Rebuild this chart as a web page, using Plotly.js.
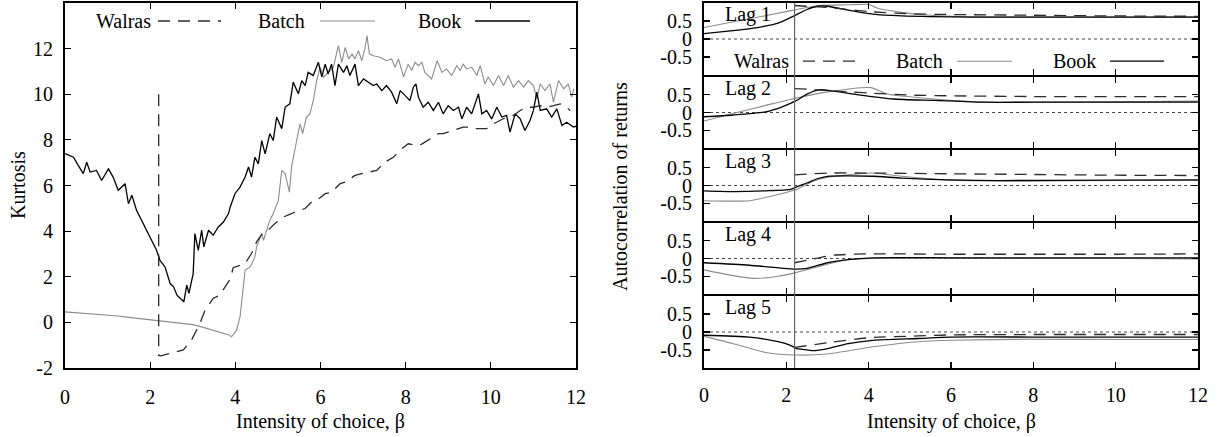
<!DOCTYPE html>
<html>
<head>
<meta charset="utf-8">
<script src="https://cdn.plot.ly/plotly-3.0.1.min.js"></script>
<style>html,body{margin:0;padding:0;background:#fff;}#chart{width:1228px;height:437px;}</style>
</head>
<body>
<div id="chart"></div>
<script>
// ---------- Left panel: Kurtosis ----------
const bookX = [0.0,0.2,0.31,0.43,0.51,0.59,0.74,0.86,1.02,1.13,1.25,1.41,1.49,1.57,1.68,1.80,1.92,2.04,2.15,2.23,2.35,2.47,2.55,2.63,2.79,2.86,2.91,3.01,3.05,3.13,3.21,3.26,3.37,3.48,3.60,3.72,3.84,3.88,3.99,4.11,4.23,4.31,4.38,4.46,4.54,4.62,4.70,4.81,4.89,4.97,5.09,5.17,5.28,5.36,5.48,5.56,5.64,5.71,5.83,5.95,6.03,6.11,6.18,6.26,6.34,6.42,6.54,6.62,6.69,6.81,6.89,7.01,7.12,7.24,7.32,7.44,7.55,7.67,7.79,7.87,7.99,8.10,8.18,8.24,8.30,8.41,8.53,8.65,8.77,8.88,9.0,9.12,9.24,9.32,9.43,9.55,9.71,9.79,9.90,10.02,10.14,10.26,10.37,10.45,10.57,10.69,10.80,10.92,11.0,11.08,11.16,11.31,11.43,11.55,11.67,11.78,11.94,12.0];
const bookY = [7.40,7.24,6.88,6.52,7.02,6.59,6.66,6.22,6.73,6.37,5.79,6.08,5.20,5.57,4.91,4.47,4.04,3.60,3.16,2.72,2.43,1.70,1.56,1.19,0.90,1.63,1.27,2.14,3.89,3.16,4.04,3.31,4.04,3.82,4.18,4.40,4.77,5.06,5.64,5.93,6.37,6.81,6.37,7.24,6.95,7.97,7.39,8.27,7.97,9.0,8.49,9.44,9.58,10.53,10.02,10.6,10.38,10.96,10.82,11.40,10.76,11.32,10.89,11.32,10.38,11.32,10.96,11.25,10.82,11.32,10.38,10.67,10.53,10.38,10.45,10.16,10.38,10.09,9.58,10.16,9.94,9.72,10.31,10.45,9.87,9.43,9.65,9.29,9.65,9.14,9.50,9.29,9.43,8.92,9.43,9.14,10.02,9.14,9.29,8.92,9.43,9.0,9.07,8.34,9.14,8.92,8.41,8.85,9.29,10.09,9.29,9.36,9.0,9.36,8.63,8.77,8.56,8.6];

const batchX = [0,0.25,0.5,0.75,1.0,1.25,1.5,1.75,2.0,2.25,2.5,2.75,3.0,3.25,3.5,3.75,3.85,3.91,4.03,4.11,4.17,4.23,4.35,4.46,4.50,4.62,4.66,4.74,4.81,4.89,5.01,5.09,5.17,5.27,5.32,5.44,5.52,5.58,5.67,5.75,5.83,5.91,5.99,6.07,6.18,6.30,6.42,6.50,6.58,6.66,6.74,6.81,6.89,6.97,7.05,7.09,7.15,7.24,7.40,7.55,7.67,7.75,7.83,7.95,8.06,8.14,8.22,8.30,8.38,8.45,8.61,8.74,8.85,8.96,9.08,9.20,9.28,9.35,9.43,9.55,9.67,9.75,9.86,9.94,10.06,10.18,10.30,10.41,10.53,10.65,10.77,10.88,11.0,11.08,11.16,11.27,11.39,11.47,11.59,11.71,11.82,11.90,11.95];
const batchY = [0.46,0.43,0.40,0.37,0.33,0.28,0.22,0.17,0.12,0.07,0.02,-0.04,-0.10,-0.22,-0.35,-0.48,-0.55,-0.63,-0.34,0.24,1.41,2.29,2.43,2.87,3.31,3.89,3.60,4.04,4.47,4.77,5.35,6.66,6.52,5.71,6.81,7.97,8.70,8.27,9.0,9.14,9.72,10.60,11.18,10.76,10.96,11.18,12.13,11.40,12.05,11.55,11.76,11.55,11.91,11.47,12.05,12.57,11.76,11.69,11.62,11.47,11.55,11.18,11.55,10.76,11.32,11.04,11.40,11.25,11.40,10.96,10.67,11.47,10.96,11.11,10.82,11.25,11.04,11.32,11.11,11.18,10.82,11.25,10.45,10.76,10.38,10.82,10.38,10.82,10.31,10.60,10.31,10.60,10.38,9.80,10.45,10.16,10.45,9.65,10.60,10.24,10.45,9.87,10.24];

const walrasX = [2.2,2.2,2.25,2.78,2.97,3.17,3.29,3.48,3.63,3.80,3.88,3.95,4.11,4.23,4.38,4.50,4.66,4.77,4.93,5.13,5.32,5.48,5.64,5.79,5.91,6.11,6.26,6.46,6.58,6.81,6.97,7.16,7.32,7.51,7.71,7.91,8.06,8.14,8.33,8.45,8.65,8.77,8.88,9.0,9.12,9.24,9.35,9.47,9.59,9.75,9.90,10.06,10.22,10.37,10.53,10.69,10.84,11.0,11.16,11.31,11.47,11.63,11.78,11.86];
const walrasY = [10.0,-1.45,-1.47,-1.21,-0.78,-0.04,0.54,1.05,1.19,1.70,1.90,2.40,2.51,2.58,3.02,3.53,3.96,4.04,4.33,4.62,4.77,4.91,4.99,5.28,5.35,5.64,5.71,6.08,6.15,6.44,6.52,6.59,6.66,7.02,7.24,7.61,7.83,7.80,7.76,7.90,8.12,8.27,8.27,8.34,8.41,8.49,8.56,8.56,8.49,8.49,8.49,8.70,8.85,9.0,9.07,9.29,9.43,9.43,9.50,9.43,9.50,9.58,9.43,9.29];

// ---------- Right panels: autocorrelation by lag ----------
const lagNames = ["Lag 1","Lag 2","Lag 3","Lag 4","Lag 5"];

const lag1BookX = [0,0.7,1.2,1.8,2.2,2.5,2.75,3.0,3.5,4.1,4.8,5.5,6.5,8,10,12];
const lag1BookY = [0.15,0.23,0.30,0.44,0.65,0.82,0.91,0.91,0.80,0.69,0.64,0.62,0.61,0.61,0.61,0.61];
const lag1BatchX = [0,1.0,2.0,2.25,2.8,3.5,4.0,4.2,4.8,5.5,6.5,8,10,12];
const lag1BatchY = [0.32,0.54,0.76,0.82,0.93,0.95,0.96,0.86,0.74,0.66,0.62,0.61,0.61,0.61];
const lag1WalrasX = [2.2,2.5,3.0,3.5,4.0,5.0,6.0,8.0,10.0,12.0];
const lag1WalrasY = [0.93,0.91,0.88,0.82,0.76,0.70,0.68,0.66,0.64,0.63];

const lag2BookX = [0,0.7,1.5,1.9,2.25,2.5,2.8,3.1,3.8,4.6,5.6,6.8,8,10,12];
const lag2BookY = [-0.12,-0.07,0.02,0.16,0.34,0.52,0.64,0.61,0.49,0.38,0.34,0.29,0.29,0.29,0.29];
const lag2BatchX = [0,0.7,1.5,2.25,3.0,4.05,4.45,5.6,6.8,8,10,12];
const lag2BatchY = [-0.24,-0.03,0.20,0.41,0.58,0.70,0.52,0.38,0.29,0.29,0.30,0.32];
const lag2WalrasX = [2.2,2.8,3.5,4.0,5.0,6.0,8.0,10.0,12.0];
const lag2WalrasY = [0.67,0.64,0.58,0.55,0.49,0.47,0.45,0.45,0.45];

const lag3BookX = [0,0.7,1.5,2.1,2.25,2.5,2.75,3.0,3.5,4.1,4.8,5.9,7.2,10,12];
const lag3BookY = [-0.15,-0.17,-0.15,-0.11,-0.04,0.07,0.19,0.26,0.27,0.26,0.21,0.16,0.14,0.15,0.16];
const lag3BatchX = [0,0.5,1.1,1.8,2.25,2.65,3.0,3.5,4.1,4.8,6.0,8,10,12];
const lag3BatchY = [-0.43,-0.44,-0.43,-0.25,-0.11,0.12,0.23,0.30,0.35,0.26,0.15,0.13,0.14,0.14];
const lag3WalrasX = [2.2,3.0,4.0,6.0,8.0,10.0,12.0];
const lag3WalrasY = [0.30,0.35,0.35,0.33,0.31,0.29,0.28];

const lag4BookX = [0,1.1,2.25,2.5,3.0,3.5,4.1,6,8,10,12];
const lag4BookY = [-0.12,-0.19,-0.30,-0.28,-0.12,-0.03,0.02,0.02,0.02,0.02,0.02];
const lag4BatchX = [0,0.7,1.2,1.8,2.25,3.0,3.5,4.1,6,8,10,12];
const lag4BatchY = [-0.32,-0.48,-0.56,-0.50,-0.39,-0.16,-0.03,0.0,0.01,0.0,0.0,-0.01];
const lag4WalrasX = [2.2,2.6,3.1,4.0,6,8,10,12];
const lag4WalrasY = [-0.12,-0.03,0.09,0.13,0.12,0.12,0.12,0.13];

const lag5BookX = [0,1.1,1.8,2.1,2.25,2.4,2.65,3.0,3.5,4.1,5.2,6,8,10,12];
const lag5BookY = [-0.09,-0.14,-0.27,-0.37,-0.46,-0.48,-0.52,-0.46,-0.32,-0.23,-0.18,-0.14,-0.14,-0.14,-0.14];
const lag5BatchX = [0,0.7,1.5,2.25,3.0,4.1,5.2,6,8,10,12];
const lag5BatchY = [-0.12,-0.32,-0.57,-0.64,-0.61,-0.41,-0.27,-0.23,-0.20,-0.21,-0.21];
const lag5WalrasX = [2.2,3.0,4.0,5.2,6,8,10,12];
const lag5WalrasY = [-0.43,-0.30,-0.16,-0.11,-0.08,-0.07,-0.07,-0.07];

const switchBeta = 2.2;
const xTicks = [0,2,4,6,8,10,12];
const kurtTicks = [-2,0,2,4,6,8,10,12];
const acTicks = [-0.5,0,0.5];

// ---------- styling ----------
const W = 1228, H = 437, MT = 3, MB = 69;
const PH = H - MT - MB;
const FONT = "Liberation Serif";
const FS = 20;
const cBook = "#000000", cBatch = "#8c8c8c", cWalras = "#2a2a2a";
const DASH = "12px,8px";
const px2x = p => p / W;
const px2y = p => (H - MB - p) / PH;

const lagData = [
  [lag1WalrasX,lag1WalrasY,lag1BatchX,lag1BatchY,lag1BookX,lag1BookY],
  [lag2WalrasX,lag2WalrasY,lag2BatchX,lag2BatchY,lag2BookX,lag2BookY],
  [lag3WalrasX,lag3WalrasY,lag3BatchX,lag3BatchY,lag3BookX,lag3BookY],
  [lag4WalrasX,lag4WalrasY,lag4BatchX,lag4BatchY,lag4BookX,lag4BookY],
  [lag5WalrasX,lag5WalrasY,lag5BatchX,lag5BatchY,lag5BookX,lag5BookY]
];

const traces = [
  {x: batchX, y: batchY, xaxis:"x", yaxis:"y", mode:"lines", line:{color:cBatch, width:1.1}, name:"Batch", showlegend:false},
  {x: bookX, y: bookY, xaxis:"x", yaxis:"y", mode:"lines", line:{color:cBook, width:1.3}, name:"Book", showlegend:false},
  {x: walrasX, y: walrasY, xaxis:"x", yaxis:"y", mode:"lines", line:{color:cWalras, width:1.3, dash:DASH}, name:"Walras", showlegend:false}
];

const layout = {
  width: W, height: H,
  margin: {l:0, r:0, t:MT, b:MB, pad:0},
  paper_bgcolor:"#fff", plot_bgcolor:"#fff",
  font: {family: FONT, size: FS, color:"#000"},
  showlegend:false,
  shapes: [], annotations: []
};

function axisBase(extra){
  return Object.assign({
    showline:true, linecolor:"#000", linewidth:2, mirror:"allticks",
    ticks:"inside", ticklen:6, tickwidth:1.2, tickcolor:"#000",
    showgrid:false, zeroline:false, fixedrange:true,
    tickfont:{family:FONT, size:FS, color:"#000"}
  }, extra);
}
const fmt = v => String(v).replace("\u2212","-");

const LX0 = 65, LX1 = 576, RX0 = 704, RX1 = 1198;
layout.xaxis = axisBase({domain:[px2x(LX0), px2x(LX1)], range:[0,12], anchor:"y", tickvals:xTicks, ticktext:xTicks.map(fmt), ticklabelstandoff:10});
layout.yaxis = axisBase({domain:[0,1], range:[-2,14], anchor:"x", tickvals:kurtTicks, ticktext:kurtTicks.map(fmt), ticklabelstandoff:6});

const gap = 2 / PH;  // so the neighbouring frame lines coincide
for (let k = 0; k < 5; k++) {
  const n = k + 2;
  const xa = "xaxis" + n, ya = "yaxis" + n, xr = "x" + n, yr = "y" + n;
  let d0 = (4 - k) / 5, d1 = (5 - k) / 5;
  if (k < 4) d0 += gap / 2;
  if (k > 0) d1 -= gap / 2;
  layout[xa] = axisBase({domain:[px2x(RX0), px2x(RX1)], range:[0,12], anchor:yr, tickvals:xTicks, ticktext:xTicks.map(fmt), showticklabels: k === 4, ticklabelstandoff:8});
  if (k > 0) layout[xa].matches = "x2";
  layout[ya] = axisBase({domain:[d0, d1], range:[-1,1], anchor:xr, tickvals:acTicks, ticktext:acTicks.map(fmt), ticklabelstandoff:6});
  // zero line (dotted)
  layout.shapes.push({type:"line", xref:xr + " domain", x0:0, x1:1, yref:yr, y0:0, y1:0, line:{color:"#444", width:1, dash:"dot"}, layer:"below"});
  const [wx,wy,bx,by,kx,ky] = lagData[k];
  traces.push({x:bx, y:by, xaxis:xr, yaxis:yr, mode:"lines", line:{color:cBatch, width:1.1, shape:"spline", smoothing:0.6}, showlegend:false});
  traces.push({x:kx, y:ky, xaxis:xr, yaxis:yr, mode:"lines", line:{color:cBook, width:1.3, shape:"spline", smoothing:0.6}, showlegend:false});
  traces.push({x:wx, y:wy, xaxis:xr, yaxis:yr, mode:"lines", line:{color:cWalras, width:1.3, dash:DASH, shape:"spline", smoothing:0.6}, showlegend:false});
  layout.annotations.push({text:lagNames[k], xref:"paper", x:px2x(748), xanchor:"center", yref:yr + " domain", y:1 - 12/73, yanchor:"middle", showarrow:false, font:{family:FONT, size:FS, color:"#000"}, bgcolor:"rgba(0,0,0,0)"});
}
// vertical line at switching beta across all right panels
layout.shapes.push({type:"line", xref:"x2", x0:switchBeta, x1:switchBeta, yref:"paper", y0:0, y1:1, line:{color:"#666", width:1.2}});

// axis titles
layout.annotations.push({text:"Kurtosis", xref:"paper", yref:"paper", x:px2x(18), y:px2y(185), textangle:-90, showarrow:false, xanchor:"center", yanchor:"middle", font:{family:FONT, size:FS}});
layout.annotations.push({text:"Autocorrelation of returns", xref:"paper", yref:"paper", x:px2x(620), y:px2y(187), textangle:-90, showarrow:false, xanchor:"center", yanchor:"middle", font:{family:FONT, size:FS}});
layout.annotations.push({text:"Intensity of choice, \u03b2", xref:"paper", yref:"paper", x:px2x(320), y:px2y(421), showarrow:false, xanchor:"center", yanchor:"middle", font:{family:FONT, size:FS}});
layout.annotations.push({text:"Intensity of choice, \u03b2", xref:"paper", yref:"paper", x:px2x(951), y:px2y(421), showarrow:false, xanchor:"center", yanchor:"middle", font:{family:FONT, size:FS}});

// custom gnuplot-style legends: label then line sample
function legendEntry(label, textRight, s0, s1, cy, color, dash, width, yref){
  const yv = yref === "paper" ? px2y(cy) : cy;
  layout.annotations.push({text:label, xref:"paper", yref:yref, x:px2x(textRight), y:yv, xanchor:"right", yanchor:"middle", showarrow:false, font:{family:FONT, size:FS}});
  layout.shapes.push({type:"line", xref:"paper", yref:yref, x0:px2x(s0), x1:px2x(s1), y0:yv, y1:yv, line:{color:color, width:width, dash:dash}});
}
legendEntry("Walras", 153, 158, 221, 21, cWalras, DASH, 1.3, "paper");
legendEntry("Batch", 307, 320, 375, 21, cBatch, "solid", 1.1, "paper");
legendEntry("Book", 463, 475, 530, 21, cBook, "solid", 1.3, "paper");
const ly = (76 - 62) / 73;
legendEntry("Walras", 791, 803, 857, ly, cWalras, DASH, 1.3, "y2 domain");
legendEntry("Batch", 945, 957, 1012, ly, cBatch, "solid", 1.1, "y2 domain");
legendEntry("Book", 1098, 1110, 1164, ly, cBook, "solid", 1.3, "y2 domain");

Plotly.newPlot("chart", traces, layout, {staticPlot:true, displayModeBar:false});
</script>
</body>
</html>
